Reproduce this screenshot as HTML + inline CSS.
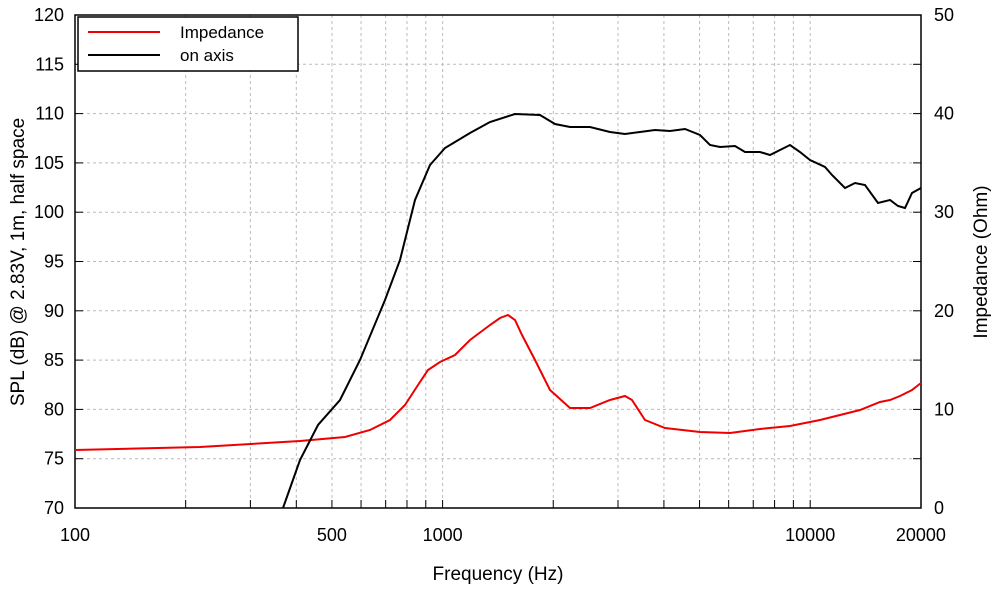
<!DOCTYPE html>
<html><head><meta charset="utf-8"><style>body{margin:0;background:#fff}svg{display:block}</style></head><body>
<svg width="1000" height="591" xmlns="http://www.w3.org/2000/svg" font-family="Liberation Sans, DejaVu Sans, sans-serif">
<rect width="1000" height="591" fill="#fff"/>
<g id="grid" stroke="#bbb" stroke-width="1" stroke-dasharray="3,3"></g>
<g id="tm" stroke="#000" stroke-width="1"></g>
<rect x="75" y="15" width="846" height="493" fill="none" stroke="#000" stroke-width="1.5"/>
<g id="ticks" font-size="18" fill="#000"></g>
<polyline fill="none" stroke="#e00" stroke-width="2" points="75,450 200,447 300,441 345,437 370,430 390,420 405,405 418,385 428,370 440,362 455,355 470,340 490,325 500,318 508,315 515,320 522,335 535,360 550,390 570,408 590,408 610,400 625,396 632,400 645,420 665,428 700,432 730,433 760,429 790,426 820,420 860,410 880,402 890,400 900,396 912,390 921,383"/>
<polyline fill="none" stroke="#000" stroke-width="2" points="283,508 300,460 318,425 340,400 360,360 385,300 400,260 415,200 430,165 445,148 470,133 490,122 515,114 540,115 555,124 570,127 590,127 610,132 625,134 640,132 655,130 670,131 685,129 700,135 710,145 720,147 735,146 745,152 760,152 770,155 780,150 790,145 800,152 810,160 825,167 832,175 845,188 855,183 865,185 878,203 890,200 898,206 905,208 912,193 921,188"/>
<rect x="78" y="17" width="220" height="54" fill="#fff" stroke="#000" stroke-width="1.5"/>
<line x1="88" y1="32" x2="160" y2="32" stroke="#e00" stroke-width="2"/>
<line x1="88" y1="55" x2="160" y2="55" stroke="#000" stroke-width="2"/>
<text x="180" y="38" font-size="17">Impedance</text>
<text x="180" y="61" font-size="17">on axis</text>
<text x="498" y="580" font-size="19" text-anchor="middle">Frequency (Hz)</text>
<text transform="translate(24,262) rotate(-90)" font-size="19" text-anchor="middle">SPL (dB) @ 2.83V, 1m, half space</text>
<text transform="translate(987,262) rotate(-90)" font-size="19" text-anchor="middle">Impedance (Ohm)</text>
</svg>
<script>
var g=document.getElementById('grid'),t=document.getElementById('ticks'),tm=document.getElementById('tm'),ns='http://www.w3.org/2000/svg';
function X(f){return 75+367.6*Math.log10(f/100);}
function el(p,n,a,txt){var e=document.createElementNS(ns,n);for(var k in a)e.setAttribute(k,a[k]);if(txt!=null)e.textContent=txt;p.appendChild(e);}
var fs=[200,300,400,500,600,700,800,900,1000,2000,3000,4000,5000,6000,7000,8000,9000,10000];
fs.forEach(function(f){var x=X(f);el(g,'line',{x1:x,y1:15,x2:x,y2:508});el(tm,'line',{x1:x,y1:500,x2:x,y2:508});});
for(var v=75;v<120;v+=5){var y=508-(v-70)*9.86;el(g,'line',{x1:75,y1:y,x2:921,y2:y});el(tm,'line',{x1:75,y1:y,x2:83,y2:y});el(tm,'line',{x1:913,y1:y,x2:921,y2:y});}
for(var v=70;v<=120;v+=5){var y=508-(v-70)*9.86;el(t,'text',{x:64,y:y+6,'text-anchor':'end'},v);}
for(var v=0;v<=50;v+=10){var y=508-v*9.86;el(t,'text',{x:934,y:y+6},v);}
[[100,'100'],[500,'500'],[1000,'1000'],[10000,'10000'],[20000,'20000']].forEach(function(a){el(t,'text',{x:X(a[0]),y:541,'text-anchor':'middle'},a[1]);});
</script>
</body></html>
